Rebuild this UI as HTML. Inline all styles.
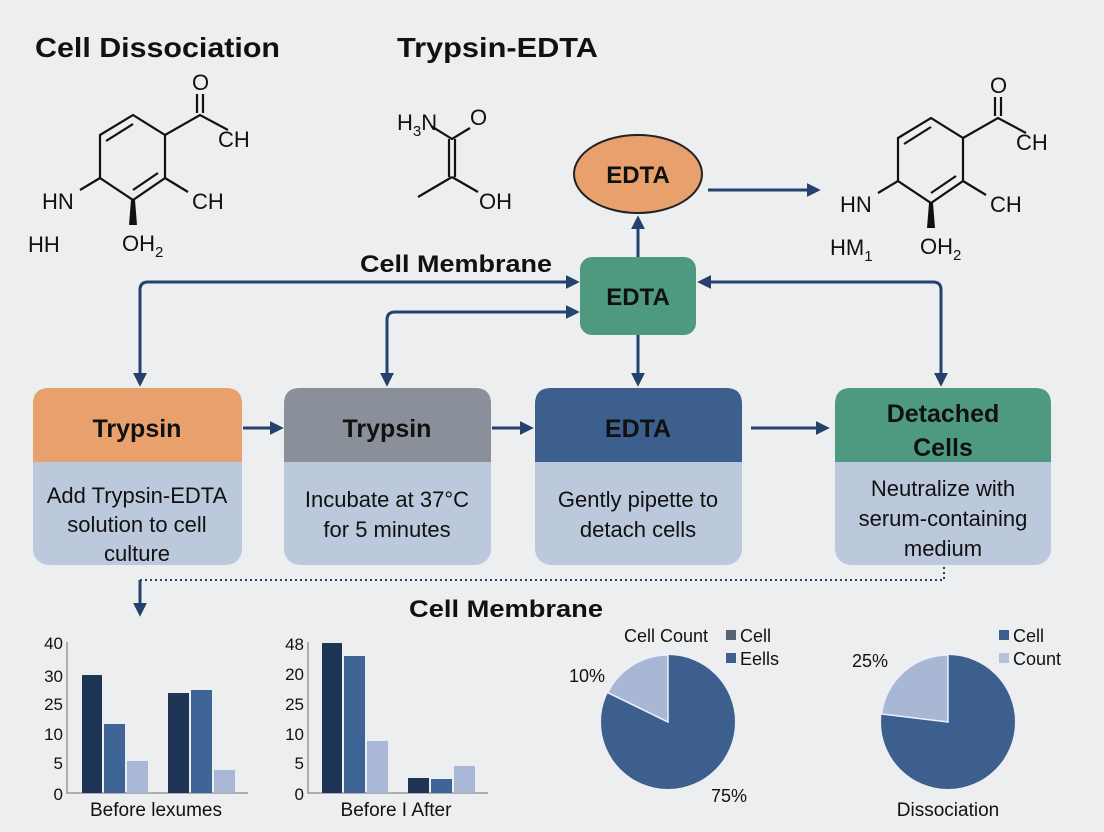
<!DOCTYPE html>
<html><head><meta charset="utf-8"><style>
html,body{margin:0;padding:0;background:#eceef0;}
svg{display:block;}
text{font-family:"Liberation Sans",sans-serif;fill:#111;}
.b{font-weight:bold;}
</style></head><body>
<svg width="1104" height="832" viewBox="0 0 1104 832" xmlns="http://www.w3.org/2000/svg">
<defs>
<marker id="ah2" viewBox="0 0 10 10" markerWidth="14" markerHeight="14" refX="8" refY="5" orient="auto-start-reverse" markerUnits="userSpaceOnUse">
<path d="M0,0 L10,5 L0,10 Z" fill="#24426b"/></marker>
</defs>
<rect width="1104" height="832" fill="#eceef0"/>

<!-- titles -->
<text x="35" y="57" class="b" font-size="28" textLength="245" lengthAdjust="spacingAndGlyphs">Cell Dissociation</text>
<text x="397" y="57" class="b" font-size="28" textLength="201" lengthAdjust="spacingAndGlyphs">Trypsin-EDTA</text>

<!-- left molecule -->
<g id="mol">
<g stroke="#111" stroke-width="2.2" fill="none">
<path d="M100,135 L133,115 L165,135 L165,178 L133,200 L100,178 Z"/>
<path d="M106,141 L133,124"/>
<path d="M158,173 L133,190"/>
<path d="M165,135 L200,115 L228,130"/>
<path d="M197,113 L197,94 M203,113 L203,94"/>
<path d="M165,178 L188,192"/>
<path d="M100,178 L80,190"/>
</g>
<path d="M131,200 L135,200 L137,225 L129,225 Z" fill="#111"/>
<text x="192" y="90" font-size="22">O</text>
<text x="218" y="147" font-size="22">CH</text>
<text x="192" y="209" font-size="22">CH</text>
<text x="42" y="209" font-size="22">HN</text>
<text x="122" y="251" font-size="22">OH<tspan font-size="15" dy="6">2</tspan></text>
</g>
<text x="28" y="252" font-size="22">HH</text>

<!-- right molecule -->
<use href="#mol" transform="translate(798,3)"/>
<text x="830" y="255" font-size="22">HM<tspan font-size="15" dy="6">1</tspan></text>

<!-- middle molecule -->
<g stroke="#111" stroke-width="2.2" fill="none">
<path d="M431,126 L452,139 L470,128"/>
<path d="M449,139 L449,177 M455,139 L455,177"/>
<path d="M452,177 L418,197"/>
<path d="M452,177 L478,192"/>
</g>
<text x="397" y="130" font-size="22">H<tspan font-size="15" dy="6">3</tspan><tspan dy="-6">N</tspan></text>
<text x="470" y="125" font-size="22">O</text>
<text x="479" y="209" font-size="22">OH</text>

<!-- connectors -->
<g stroke="#24426b" stroke-width="3" fill="none">
<path d="M577,282 L148,282 Q140,282 140,290 L140,384" marker-start="url(#ah2)" marker-end="url(#ah2)"/>
<path d="M577,312 L395,312 Q387,312 387,320 L387,384" marker-start="url(#ah2)" marker-end="url(#ah2)"/>
<path d="M941,384 L941,290 Q941,282 933,282 L700,282" marker-start="url(#ah2)" marker-end="url(#ah2)"/>
<path d="M638,335 L638,384" marker-end="url(#ah2)"/>
<path d="M638,257 L638,218" marker-end="url(#ah2)"/>
<path d="M708,190 L818,190" marker-end="url(#ah2)"/>
<path d="M243,428 L281,428" marker-end="url(#ah2)"/>
<path d="M492,428 L531,428" marker-end="url(#ah2)"/>
<path d="M751,428 L827,428" marker-end="url(#ah2)"/>
<path d="M140,580 L140,614" marker-end="url(#ah2)"/>
</g>
<path d="M140,580 L944,580 L944,566" stroke="#24426b" stroke-width="2" stroke-dasharray="2,3" fill="none"/>

<text x="456" y="272" class="b" font-size="24" text-anchor="middle" textLength="192" lengthAdjust="spacingAndGlyphs">Cell Membrane</text>
<text x="506" y="617" class="b" font-size="24" text-anchor="middle" textLength="194" lengthAdjust="spacingAndGlyphs">Cell Membrane</text>

<!-- ellipse -->
<ellipse cx="638" cy="174" rx="64" ry="39" fill="#e8a06c" stroke="#222" stroke-width="2"/>
<text x="638" y="183" class="b" font-size="24" text-anchor="middle">EDTA</text>

<!-- green EDTA -->
<rect x="580" y="257" width="116" height="78" rx="12" fill="#4e9a80"/>
<text x="638" y="305" class="b" font-size="24" text-anchor="middle">EDTA</text>

<!-- boxes -->
<g>
<rect x="33" y="388" width="209" height="177" rx="16" fill="#bcc8dc"/>
<path d="M33,462 L33,404 Q33,388 49,388 L226,388 Q242,388 242,404 L242,462 Z" fill="#e8a06c"/>
<text x="137" y="437" class="b" font-size="25" text-anchor="middle">Trypsin</text>
<text x="137" y="503" font-size="22" text-anchor="middle">Add Trypsin-EDTA</text>
<text x="137" y="532" font-size="22" text-anchor="middle">solution to cell</text>
<text x="137" y="561" font-size="22" text-anchor="middle">culture</text>

<rect x="284" y="388" width="207" height="177" rx="16" fill="#bcc8dc"/>
<path d="M284,462 L284,404 Q284,388 300,388 L475,388 Q491,388 491,404 L491,462 Z" fill="#8a9099"/>
<text x="387" y="437" class="b" font-size="25" text-anchor="middle">Trypsin</text>
<text x="387" y="507" font-size="22" text-anchor="middle">Incubate at 37°C</text>
<text x="387" y="537" font-size="22" text-anchor="middle">for 5 minutes</text>

<rect x="535" y="388" width="207" height="177" rx="16" fill="#bcc8dc"/>
<path d="M535,462 L535,404 Q535,388 551,388 L726,388 Q742,388 742,404 L742,462 Z" fill="#3d5f8e"/>
<text x="638" y="437" class="b" font-size="25" text-anchor="middle">EDTA</text>
<text x="638" y="507" font-size="22" text-anchor="middle">Gently pipette to</text>
<text x="638" y="537" font-size="22" text-anchor="middle">detach cells</text>

<rect x="835" y="388" width="216" height="177" rx="16" fill="#bcc8dc"/>
<path d="M835,462 L835,404 Q835,388 851,388 L1035,388 Q1051,388 1051,404 L1051,462 Z" fill="#4e9a80"/>
<text x="943" y="422" class="b" font-size="25" text-anchor="middle">Detached</text>
<text x="943" y="456" class="b" font-size="25" text-anchor="middle">Cells</text>
<text x="943" y="496" font-size="22" text-anchor="middle">Neutralize with</text>
<text x="943" y="526" font-size="22" text-anchor="middle">serum-containing</text>
<text x="943" y="556" font-size="22" text-anchor="middle">medium</text>
</g>

<!-- bar charts -->
<g stroke="#999" stroke-width="1.5" fill="none"><path d="M67,642 L67,793 L248,793"/><path d="M308,642 L308,793 L488,793"/></g>
<g font-size="17" text-anchor="end">
<text x="63" y="649">40</text><text x="63" y="682">30</text><text x="63" y="710">25</text><text x="63" y="740">10</text><text x="63" y="769">5</text><text x="63" y="800">0</text>
<text x="304" y="650">48</text><text x="304" y="680">20</text><text x="304" y="710">25</text><text x="304" y="740">10</text><text x="304" y="769">5</text><text x="304" y="800">0</text>
</g>
<rect x="82" y="675" width="20" height="118" fill="#1f3556"/>
<rect x="104" y="724" width="21" height="69" fill="#3f6496"/>
<rect x="127" y="761" width="21" height="32" fill="#a8b8d6"/>
<rect x="168" y="693" width="21" height="100" fill="#1f3556"/>
<rect x="191" y="690" width="21" height="103" fill="#3f6496"/>
<rect x="214" y="770" width="21" height="23" fill="#a8b8d6"/>
<text x="156" y="816" font-size="19" text-anchor="middle">Before lexumes</text>

<rect x="322" y="643" width="20" height="150" fill="#1f3556"/>
<rect x="344" y="656" width="21" height="137" fill="#3f6496"/>
<rect x="367" y="741" width="21" height="52" fill="#a8b8d6"/>
<rect x="408" y="778" width="21" height="15" fill="#1f3556"/>
<rect x="431" y="779" width="21" height="14" fill="#3f6496"/>
<rect x="454" y="766" width="21" height="27" fill="#a8b8d6"/>
<text x="396" y="816" font-size="19" text-anchor="middle">Before I After</text>

<!-- pie 1 -->
<circle cx="668" cy="722" r="67" fill="#3d5f8e"/>
<path d="M668,722 L668,655 A67,67 0 0 0 607.8,692.6 Z" fill="#a8b8d4" stroke="#eef" stroke-width="1.5"/>
<text x="666" y="642" font-size="18" text-anchor="middle">Cell Count</text>
<rect x="726" y="630" width="10" height="10" fill="#5a6470"/>
<text x="740" y="642" font-size="18">Cell</text>
<rect x="726" y="653" width="10" height="10" fill="#3d5f8e"/>
<text x="740" y="665" font-size="18">Eells</text>
<text x="587" y="682" font-size="18" text-anchor="middle">10%</text>
<text x="729" y="802" font-size="18" text-anchor="middle">75%</text>

<!-- pie 2 -->
<circle cx="948" cy="722" r="67" fill="#3d5f8e"/>
<path d="M948,722 L948,655 A67,67 0 0 0 881.5,714 Z" fill="#a8b8d4" stroke="#eef" stroke-width="1.5"/>
<rect x="999" y="630" width="10" height="10" fill="#3d5f8e"/>
<text x="1013" y="642" font-size="18">Cell</text>
<rect x="999" y="653" width="10" height="10" fill="#b6c2da"/>
<text x="1013" y="665" font-size="18">Count</text>
<text x="870" y="667" font-size="18" text-anchor="middle">25%</text>
<text x="948" y="816" font-size="19" text-anchor="middle">Dissociation</text>
</svg>
</body></html>
